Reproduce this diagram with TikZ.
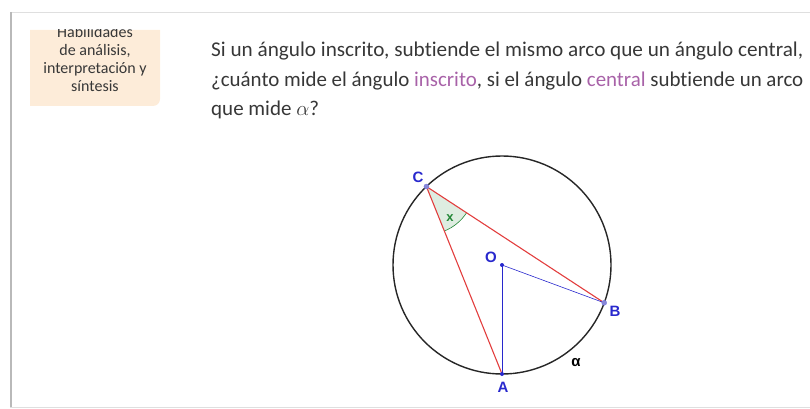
\documentclass[tikz,border=0pt]{standalone}
\usepackage{fontspec}
\setmainfont{Carlito}[Ligatures=NoCommon]
\newfontfamily\lblfont{Liberation Sans}
\usetikzlibrary{angles,positioning}
\definecolor{txtgray}{RGB}{55,55,55}
\definecolor{keypurple}{RGB}{168,98,168}
\definecolor{boxpeach}{RGB}{253,236,217}
\definecolor{segred}{RGB}{226,62,62}
\definecolor{ptblue}{RGB}{40,40,205}
\definecolor{ptlav}{RGB}{135,135,215}
\definecolor{anggreen}{RGB}{35,135,55}
\newcommand{\fitline}[1]{\resizebox{592pt}{\height}{#1}}

\begin{document}
\begin{tikzpicture}[x=1pt,y=-1pt,
  lbl/.style={text=ptblue, font=\lblfont\bfseries\fontsize{15}{15}\selectfont, inner sep=0pt},
  dot/.style={circle, fill=ptblue, inner sep=0pt, minimum size=4pt},
  ldot/.style={circle, fill=ptlav, draw=ptblue!60, line width=0.4pt, inner sep=0pt, minimum size=5pt},
  chord/.style={segred, line width=1.1pt},
  rad/.style={ptblue, line width=0.6pt},
  qline/.style={anchor=base west, inner sep=0pt, text=txtgray, font=\fontsize{21}{24}\selectfont}]
\def\cx{502}
\def\cy{265}
\def\rr{109}
\useasboundingbox (0,0) rectangle (810,409);

% page frame
\draw[gray!25, line width=0.8pt] (10,12) rectangle (830,407);
\draw[gray!55, line width=2pt] (11,12) -- (11,407);

% skills box
\fill[boxpeach] (30,30) -- (160,30) [rounded corners=7pt] -- (160,106) [sharp corners] -- (30,106) -- cycle;
\begin{scope}
\clip (30,30) rectangle (160,106);
\node[align=center, text=txtgray, font=\fontsize{16}{18}\selectfont, inner sep=0pt, anchor=base] (skills) at (95,92)
  {Habilidades\\de análisis,\\interpretación y\\síntesis};
\end{scope}

% question
\node[qline] (q1) at (211,57) {\fitline{Si un ángulo inscrito, subtiende el mismo arco que un ángulo central,}};
\node[qline] (q2) at (211,86.5) {\fitline{¿cuánto mide el ángulo \textcolor{keypurple}{inscrito}, si el ángulo \textcolor{keypurple}{central} subtiende un arco}};
\node[qline] (q3) at (211,116) {que mide $\alpha$?};

% circle and points
\coordinate (O) at (\cx,\cy);
\coordinate (A) at (502,374);
\coordinate (B) at (604.2,302.8);
\coordinate (C) at (426.4,186.5);
\draw[black!85, line width=1.4pt] (O) circle (\rr pt);

\pic[draw=anggreen, fill=anggreen!15, line width=0.6pt, angle radius=48pt] {angle = A--C--B};
\node[text=anggreen, font=\lblfont\bfseries\fontsize{13}{13}\selectfont] (x) at (450,218) {x};

\draw[chord] (C) -- (A);
\draw[chord] (C) -- (B);
\draw[rad] (O) -- (A);
\draw[rad] (O) -- (B);

\node[dot] (Od) at (O) {};
\node[dot] (Ad) at (A) {};
\node[ldot] (Bd) at (B) {};
\node[ldot] (Cd) at (C) {};

\node[lbl] (Cl) at (418,177) {C};
\node[lbl] (Ol) at (491,257) {O};
\node[lbl] (Bl) at (615,311) {B};
\node[lbl] (Al) at (503,387) {A};
\node[font=\lblfont\bfseries\fontsize{15}{15}\selectfont, inner sep=0pt] (alpha) at (576,363) {α};
\end{tikzpicture}
\end{document}
